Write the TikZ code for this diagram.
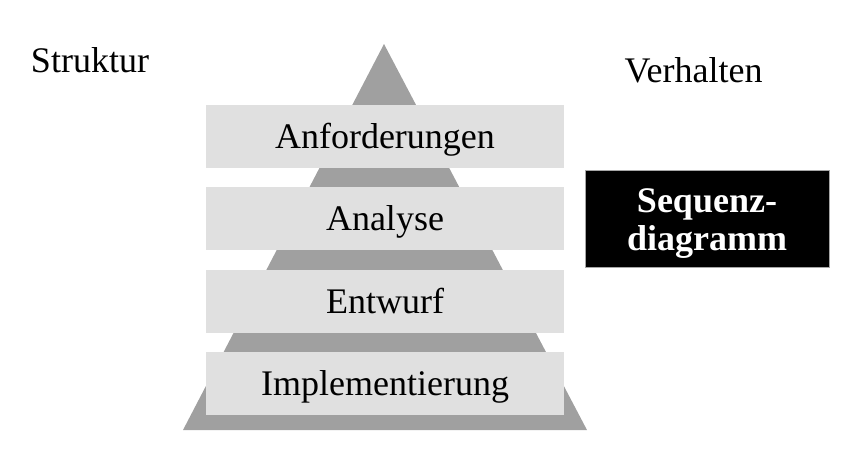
\documentclass[tikz,border=0pt]{standalone}
\usepackage{fontspec}
\setmainfont{Liberation Serif}
\begin{document}
\begin{tikzpicture}[x=0.5pt,y=-0.5pt,
  layer/.style={fill=boxgray,draw=none,minimum width=179pt,minimum height=31.5pt,inner sep=0pt,text height=17pt,text depth=5pt,font=\fontsize{18}{21}\selectfont,text=black},
  label/.style={font=\fontsize{18}{21}\selectfont,anchor=base,inner sep=0pt,text=black},
  blackbox/.style={fill=black,draw=gray!70,line width=0.4pt,minimum width=122pt,minimum height=48.5pt,inner sep=0pt},
  whitetext/.style={inner sep=0pt,text=white,align=center,font=\fontsize{18}{19}\selectfont\bfseries}
]
\definecolor{trigray}{HTML}{A0A0A0}
\definecolor{boxgray}{HTML}{E0E0E0}
\useasboundingbox (0,0) rectangle (858,463);
\fill[trigray] (384,44) -- (183,430) -- (587,430) -- cycle;
\node[layer] (anf) at (385,136.5) {Anforderungen};
\node[layer] (ana) at (385,218.5) {Analyse};
\node[layer] (ent) at (385,301) {Entwurf};
\node[layer] (imp) at (385,383) {Implementierung};
\node[label] (struktur) at (90,72) {Struktur};
\node[label] (verhalten) at (693.5,82) {Verhalten};
\node[blackbox] (seq) at (707,218.5) {};
\node[whitetext] (seqtext) at (707,224) {Sequenz-\\diagramm};
\end{tikzpicture}
\end{document}
